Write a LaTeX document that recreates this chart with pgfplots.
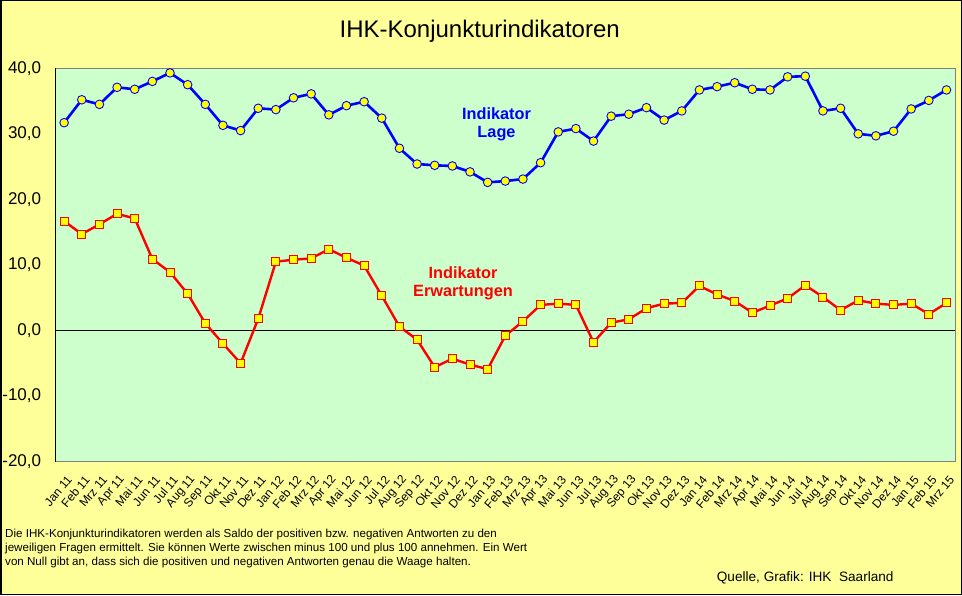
\documentclass[border=0pt]{standalone}
\usepackage{fontspec}
\setmainfont{Liberation Sans}
\usepackage{pgfplots}
\pgfplotsset{compat=1.18}
\definecolor{bgY}{HTML}{FFFF99}
\definecolor{bgG}{HTML}{CCFFCC}
\definecolor{lageblue}{HTML}{0000FF}
\definecolor{erwred}{HTML}{FF0000}
\definecolor{mkY}{HTML}{FFFF00}
\definecolor{frameGray}{HTML}{808080}

\pgfplotstableread{
x lage erw
0 31.7 16.7
1 35.2 14.7
2 34.5 16.2
3 37.1 17.8
4 36.8 17.1
5 38.0 10.9
6 39.3 8.9
7 37.5 5.6
8 34.5 1.1
9 31.3 -2.0
10 30.5 -5.0
11 33.9 1.8
12 33.7 10.5
13 35.5 10.8
14 36.1 11.0
15 32.9 12.4
16 34.3 11.1
17 34.9 9.9
18 32.4 5.3
19 27.8 0.6
20 25.4 -1.4
21 25.2 -5.6
22 25.1 -4.3
23 24.2 -5.2
24 22.6 -5.9
25 22.8 -0.8
26 23.1 1.4
27 25.6 3.9
28 30.3 4.1
29 30.8 3.9
30 28.9 -1.8
31 32.7 1.2
32 33.0 1.7
33 34.0 3.4
34 32.1 4.1
35 33.5 4.2
36 36.7 6.8
37 37.2 5.5
38 37.8 4.5
39 36.8 2.7
40 36.7 3.8
41 38.7 4.9
42 38.8 6.9
43 33.5 5.1
44 33.9 3.1
45 30.0 4.6
46 29.7 4.1
47 30.4 3.9
48 33.8 4.1
49 35.1 2.5
50 36.7 4.2
}\datatable

\begin{document}
\begin{tikzpicture}
\fill[bgY] (0pt,0pt) rectangle (962pt,595pt);
\draw[black, line width=1.5pt] (0.75pt,0.75pt) rectangle (961.25pt,594.25pt);
\begin{axis}[
  at={(55.3pt,133.4pt)}, anchor=south west,
  width=900pt, height=393.3pt, scale only axis,
  xmin=-0.5, xmax=50.5, ymin=-20, ymax=40,
  axis background/.style={fill=bgG},
  axis line style={draw=none},
  major tick length=0pt,
  clip=false,
  ytick={-20,-10,0,10,20,30,40},
  yticklabel style={/pgf/number format/.cd, fixed, fixed zerofill, precision=1, use comma, assume math mode=true, /tikz/.cd, font=\fontsize{17}{20}\selectfont, inner sep=0pt, anchor=east, xshift=-14pt},
  xtick={0,...,50},
  xticklabels={Jan 11,Feb 11,Mrz 11,Apr 11,Mai 11,Jun 11,Jul 11,Aug 11,Sep 11,Okt 11,Nov 11,Dez 11,
               Jan 12,Feb 12,Mrz 12,Apr 12,Mai 12,Jun 12,Jul 12,Aug 12,Sep 12,Okt 12,Nov 12,Dez 12,
               Jan 13,Feb 13,Mrz 13,Apr 13,Mai 13,Jun 13,Jul 13,Aug 13,Sep 13,Okt 13,Nov 13,Dez 13,
               Jan 14,Feb 14,Mrz 14,Apr 14,Mai 14,Jun 14,Jul 14,Aug 14,Sep 14,Okt 14,Nov 14,Dez 14,
               Jan 15,Feb 15,Mrz 15},
  xticklabel style={font=\fontsize{12}{13}\selectfont, inner sep=0pt, xshift=5.5pt, yshift=-16pt, rotate=50, anchor=east},
]
\draw[frameGray, line width=1pt] (rel axis cs:0,0) rectangle (rel axis cs:1,1);
\draw[black, line width=1pt] (rel axis cs:0,0) -- (rel axis cs:0,1);
\draw[black, line width=1pt] (axis cs:-0.5,0) -- (axis cs:50.5,0);
\addplot[lageblue, line width=2.6pt, mark=*, mark size=4.3pt,
  mark options={fill=mkY, draw=lageblue, line width=0.9pt}] table[x=x, y=lage] {\datatable};
\addplot[erwred, line width=2.4pt, mark=square*, mark size=4pt,
  mark options={fill=mkY, draw=erwred, line width=1pt}] table[x=x, y=erw] {\datatable};
\end{axis}
\node[anchor=base, inner sep=0pt, font=\fontsize{24}{28}\selectfont] at (479.7pt,557.7pt) {IHK-Konjunkturindikatoren};
\node[anchor=base, inner sep=0pt, text=lageblue, font=\fontsize{16.3}{18}\selectfont\bfseries] at (496.5pt,475.3pt) {Indikator};
\node[anchor=base, inner sep=0pt, text=lageblue, font=\fontsize{16.3}{18}\selectfont\bfseries] at (496.5pt,457.3pt) {Lage};
\node[anchor=base, inner sep=0pt, text=erwred, font=\fontsize{16.3}{18}\selectfont\bfseries] at (463pt,316.7pt) {Indikator};
\node[anchor=base, inner sep=0pt, text=erwred, font=\fontsize{16.3}{18}\selectfont\bfseries] at (463pt,298.3pt) {Erwartungen};
\node[anchor=base west, inner sep=0pt, font=\fontsize{11.6}{13}\selectfont] at (5pt,57.7pt) {Die IHK-Konjunkturindikatoren werden als Saldo der positiven bzw. negativen Antworten zu den};
\node[anchor=base west, inner sep=0pt, font=\fontsize{11.6}{13}\selectfont] at (5pt,43.5pt) {jeweiligen Fragen ermittelt. Sie können Werte zwischen minus 100 und plus 100 annehmen. Ein Wert};
\node[anchor=base west, inner sep=0pt, font=\fontsize{11.6}{13}\selectfont] at (5pt,29.7pt) {von Null gibt an, dass sich die positiven und negativen Antworten genau die Waage halten.};
\node[anchor=base west, inner sep=0pt, font=\fontsize{13.6}{15}\selectfont] at (716.7pt,13pt) {Quelle, Grafik: IHK\ \ Saarland};
\end{tikzpicture}
\end{document}
